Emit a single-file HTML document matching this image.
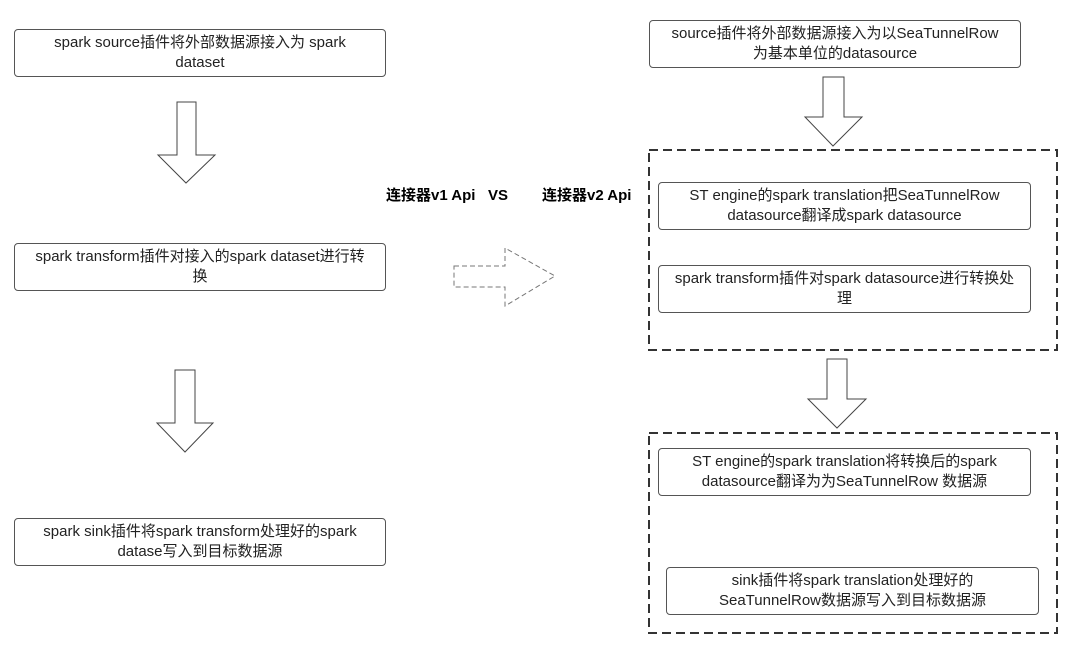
<!DOCTYPE html>
<html><head><meta charset="utf-8"><style>
html,body{margin:0;padding:0;background:#fff;}
body{width:1080px;height:654px;position:relative;overflow:hidden;font-family:"Liberation Sans","Noto Sans CJK SC",sans-serif;}
.b{position:absolute;border:1px solid #555;border-radius:4px;box-sizing:border-box;display:flex;align-items:center;justify-content:center;text-align:center;font-size:15px;line-height:20px;color:#222;padding:0 4px;white-space:nowrap;}
.t{position:absolute;font-weight:bold;font-size:15px;color:#000;white-space:pre;}
svg{position:absolute;left:0;top:0;}
</style></head><body>
<svg width="1080" height="654">
<g fill="#fff" stroke="#444" stroke-width="1">
<polygon points="177,102 196,102 196,155 215,155 186,183 158,155 177,155"/>
<polygon points="175,370 195,370 195,423 213,423 185,452 157,423 175,423"/>
<polygon points="823,77 844,77 844,117 862,117 833,146 805,117 823,117" />
<polygon points="827,359 847,359 847,399 866,399 837,428 808,399 827,399"/>
</g>
<polygon points="454,266 505,266 505,248 555,276 505,306 505,287 454,287" fill="#fff" stroke="#777" stroke-dasharray="5,3"/>
<g fill="none" stroke="#333" stroke-width="2" stroke-dasharray="9,5">
<rect x="649" y="150" width="408" height="200"/>
<rect x="649" y="433" width="408" height="200"/>
</g>
</svg>
<div class="b" style="left:14px;top:29px;width:372px;height:48px;">spark source插件将外部数据源接入为 spark<br>dataset</div>
<div class="b" style="left:14px;top:243px;width:372px;height:48px;">spark transform插件对接入的spark dataset进行转<br>换</div>
<div class="b" style="left:14px;top:518px;width:372px;height:48px;">spark sink插件将spark transform处理好的spark<br>datase写入到目标数据源</div>
<div class="b" style="left:649px;top:20px;width:372px;height:48px;">source插件将外部数据源接入为以SeaTunnelRow<br>为基本单位的datasource</div>
<div class="b" style="left:658px;top:182px;width:373px;height:48px;">ST engine的spark translation把SeaTunnelRow<br>datasource翻译成spark datasource</div>
<div class="b" style="left:658px;top:265px;width:373px;height:48px;">spark transform插件对spark datasource进行转换处<br>理</div>
<div class="b" style="left:658px;top:448px;width:373px;height:48px;">ST engine的spark translation将转换后的spark<br>datasource翻译为为SeaTunnelRow 数据源</div>
<div class="b" style="left:666px;top:567px;width:373px;height:48px;">sink插件将spark translation处理好的<br>SeaTunnelRow数据源写入到目标数据源</div>
<div class="t" style="left:386px;top:184px;">连接器v1 Api   VS</div>
<div class="t" style="left:542px;top:184px;">连接器v2 Api</div>
</body></html>
